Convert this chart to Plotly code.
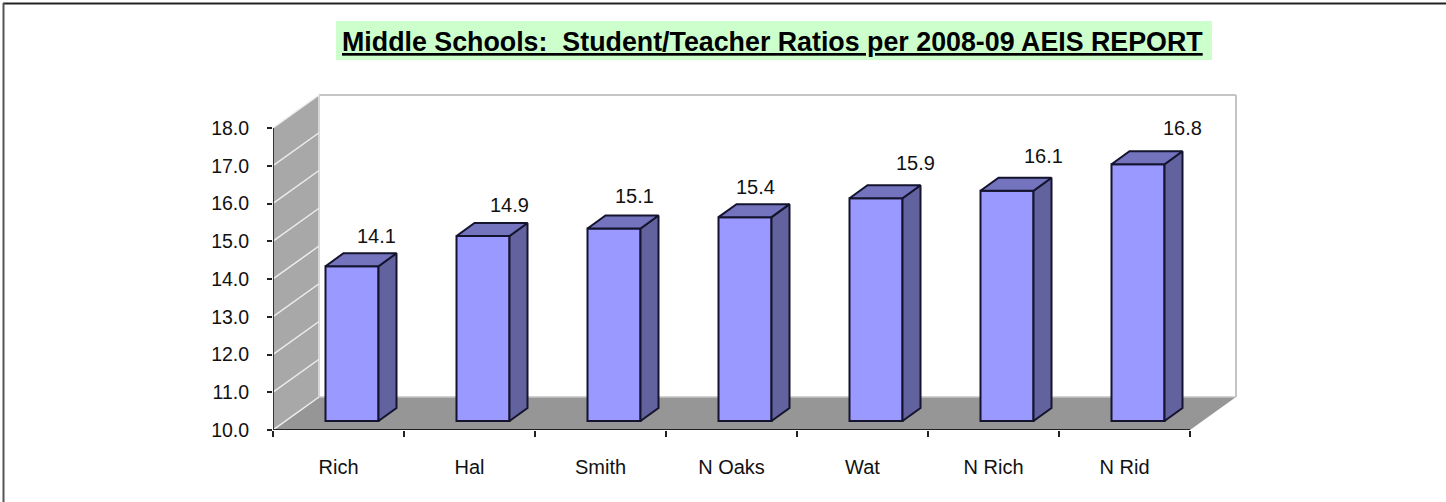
import plotly.graph_objects as go

# ---- data ----
categories = ["Rich", "Hal", "Smith", "N Oaks", "Wat", "N Rich", "N Rid"]
ratios = [14.1, 14.9, 15.1, 15.4, 15.9, 16.1, 16.8]
y_ticks = [10, 11, 12, 13, 14, 15, 16, 17, 18]
title_text = "Middle Schools:\u00a0\u00a0Student/Teacher Ratios per 2008-09 AEIS REPORT"
label_dx = [24, 26, 20, 10, 39, 36, 44]
label_dy = [30, 31, 32, 30, 35, 35, 36]

# ---- pixel frame ----
W, H = 1446, 502
L, R, T, B = 273, 1241, 90, 430
ux = 131.0    # px per category
uy = 37.75    # px per value unit
wall_dx, wall_dy = 46 / ux, 33 / uy
lift_dx, lift_dy = 13.5 / ux, 9 / uy
bar_w = 53 / ux
bar_dx, bar_dy = 18 / ux, 13 / uy
n = len(categories)
y0 = y_ticks[0]; y1 = y_ticks[-1]

EDGE = "#14142e"
FRONT, SIDE, TOP = "#9999FF", "#62629F", "#7373BE"
WALL, FLOOR = "#A8A8A8", "#969696"
FONT = "Liberation Sans, Arial, sans-serif"

def px(x): return (x - L) / (R - L)
def py(y): return (B - y) / (B - T)

fig = go.Figure()

shapes = []
def poly(xs, ys, fill):
    d = "M " + " L ".join(f"{a},{b}" for a, b in zip(xs, ys)) + " Z"
    shapes.append(dict(type="path", path=d, xref="x", yref="y", fillcolor=fill,
                       line=dict(width=0), layer="below"))
def line(x0, y_0, x1, y_1, color, width):
    shapes.append(dict(type="line", x0=x0, y0=y_0, x1=x1, y1=y_1, xref="x", yref="y",
                       line=dict(color=color, width=width), layer="below"))

# side wall and floor
poly([0, wall_dx, wall_dx, 0], [y0, y0 + wall_dy, y1 + wall_dy, y1], WALL)
poly([0, wall_dx, n + wall_dx, n], [y0, y0 + wall_dy, y0 + wall_dy, y0], FLOOR)
# back wall outline
line(wall_dx, y1 + wall_dy, n + wall_dx, y1 + wall_dy, "#C4C4C4", 2)
line(n + wall_dx, y1 + wall_dy, n + wall_dx, y0 + wall_dy, "#C4C4C4", 2)
line(wall_dx, y1 + wall_dy, wall_dx, y0 + wall_dy, "#D6D6D6", 2)
line(wall_dx, y0 + wall_dy, n + wall_dx, y0 + wall_dy, "#C4C4C4", 1.5)
# wall gridlines
for t in y_ticks:
    line(0, t, wall_dx, t + wall_dy, "#EDEDED", 1.5)

# page border and title plate (paper coordinates)
shapes.append(dict(type="line", xref="paper", yref="paper", x0=px(3), x1=px(W), y0=py(3.5), y1=py(3.5),
                   line=dict(color="#222222", width=2)))
shapes.append(dict(type="line", xref="paper", yref="paper", x0=px(3.5), x1=px(3.5), y0=py(3), y1=py(H),
                   line=dict(color="#555555", width=2)))
shapes.append(dict(type="rect", xref="paper", yref="paper", x0=px(336), x1=px(1212), y0=py(21), y1=py(60),
                   fillcolor="#CCFFCC", line=dict(width=0), layer="below"))

# bars: front faces
centers = [i + 0.5 + lift_dx for i in range(n)]
fig.add_trace(go.Bar(x=centers, y=[v - y0 for v in ratios], base=y0 + lift_dy, width=bar_w,
                     marker=dict(color=FRONT, line=dict(color=EDGE, width=2)),
                     showlegend=False, hoverinfo="skip"))

# bars: side and top faces
for c, v in zip(centers, ratios):
    xa, xb = c - bar_w / 2, c + bar_w / 2
    top = v + lift_dy
    fig.add_trace(go.Scatter(
        x=[xb, xb + bar_dx, xb + bar_dx, xb, xb],
        y=[y0 + lift_dy, y0 + lift_dy + bar_dy, top + bar_dy, top, y0 + lift_dy],
        mode="lines", fill="toself", fillcolor=SIDE, line=dict(color=EDGE, width=2),
        showlegend=False, hoverinfo="skip"))
    fig.add_trace(go.Scatter(
        x=[xa, xb, xb + bar_dx, xa + bar_dx, xa],
        y=[top, top, top + bar_dy, top + bar_dy, top],
        mode="lines", fill="toself", fillcolor=TOP, line=dict(color=EDGE, width=2),
        showlegend=False, hoverinfo="skip"))

# axis lines
fig.add_trace(go.Scatter(x=[0, 0], y=[y0, y1], mode="lines", line=dict(color="#333333", width=2),
                         cliponaxis=False, showlegend=False, hoverinfo="skip"))
fig.add_trace(go.Scatter(x=[0, n], y=[y0, y0], mode="lines", line=dict(color="#222222", width=2),
                         cliponaxis=False, showlegend=False, hoverinfo="skip"))

# data labels
annotations = [dict(x=c, y=v + lift_dy, xref="x", yref="y", text=f"{v:.1f}", showarrow=False,
                    xshift=dx, yshift=dy, font=dict(family=FONT, size=20, color="#111111"))
               for c, v, dx, dy in zip(centers, ratios, label_dx, label_dy)]
annotations.append(dict(x=px(772), y=py(42), xref="paper", yref="paper", text=f"<b>{title_text}</b>",
                        showarrow=False, xanchor="center", yanchor="middle",
                        font=dict(family=FONT, size=26.8, color="#000000", lineposition="under")))

fig.update_layout(
    width=W, height=H, autosize=False,
    margin=dict(l=L, r=W - R, t=T, b=H - B, pad=0),
    paper_bgcolor="white", plot_bgcolor="white",
    showlegend=False, shapes=shapes, annotations=annotations,
    xaxis=dict(range=[0, (R - L) / ux], showgrid=False, zeroline=False, showline=False,
               tickmode="array", tickvals=[i + 0.5 for i in range(n)], ticktext=categories,
               ticks="outside", ticklen=0, tickwidth=0, ticklabelstandoff=19,
               tickfont=dict(family=FONT, size=20, color="#111111"),
               minor=dict(tickmode="array", tickvals=list(range(n + 1)), ticks="outside",
                          ticklen=6, tickwidth=1.5, tickcolor="#222222", showgrid=False)),
    yaxis=dict(range=[y0, y0 + (B - T) / uy], showgrid=False, zeroline=False, showline=False,
               tickmode="array", tickvals=y_ticks, ticktext=[f"{t:.1f}" for t in y_ticks],
               ticks="outside", ticklen=5, tickwidth=1.5, tickcolor="#222222", ticklabelstandoff=14,
               tickfont=dict(family=FONT, size=19.5, color="#111111")),
)

fig.write_html("out.html", config={"displayModeBar": False},
               post_script="document.body.style.margin='0';")
